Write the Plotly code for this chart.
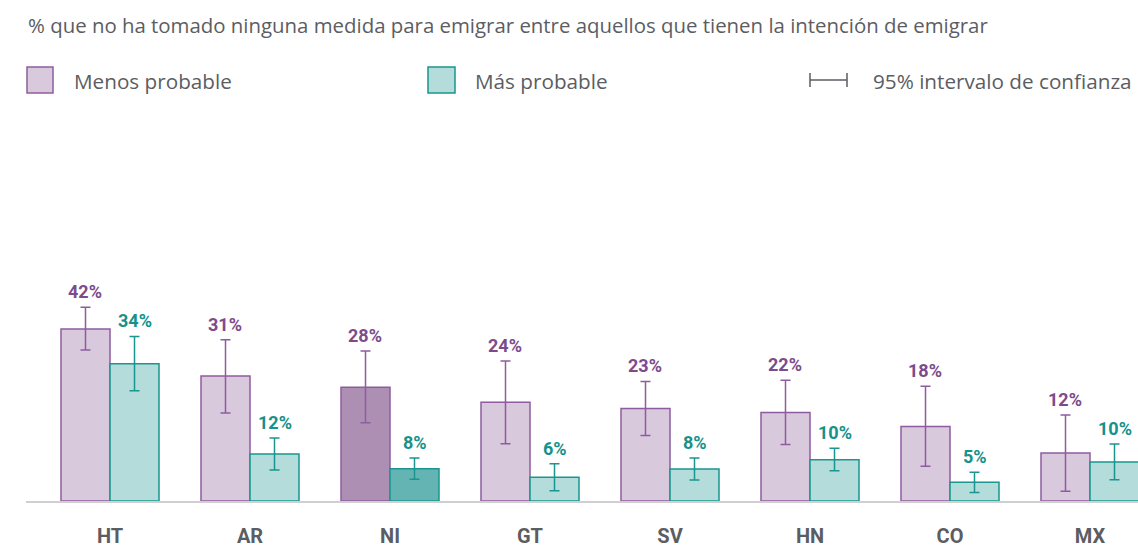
import plotly.graph_objects as go

# ---- data ----
countries = ["HT", "AR", "NI", "GT", "SV", "HN", "CO", "MX"]
menos_vals = [42.0, 30.5, 27.8, 24.1, 22.6, 21.6, 18.2, 11.7]
menos_lo = [36.9, 21.5, 19.1, 14.0, 16.0, 13.8, 8.5, 2.4]
menos_hi = [47.3, 39.4, 36.6, 34.2, 29.2, 29.5, 28.0, 21.0]
menos_labels = ["42%", "31%", "28%", "24%", "23%", "22%", "18%", "12%"]

mas_vals = [33.5, 11.5, 7.9, 5.8, 7.8, 10.1, 4.6, 9.5]
mas_lo = [26.9, 7.6, 5.3, 2.5, 5.1, 7.4, 2.1, 5.2]
mas_hi = [40.2, 15.4, 10.5, 9.1, 10.5, 12.9, 7.0, 13.9]
mas_labels = ["34%", "12%", "8%", "6%", "8%", "10%", "5%", "10%"]

highlight = "NI"

title_text = "% que no ha tomado ninguna medida para emigrar entre aquellos que tienen la intención de emigrar"
legend_menos = "Menos probable"
legend_mas = "Más probable"
legend_ci = "95% intervalo de confianza"

# ---- styles ----
W, H = 1138, 547
L, R, T, B = 26, 1138, 130, 501
PURPLE = "#7d4b8c"
PURPLE_EDGE = "#8e5c9e"
TEAL = "#16918b"
TEAL_EDGE = "#1a958f"
GRAY = "#5b5d62"
TXT_FONT = "Open Sans"

menos_fill = ["#ae8fb4" if c == highlight else "#d9c9dd" for c in countries]
mas_fill = ["#64b4b3" if c == highlight else "#b3dcdb" for c in countries]

px_per = 4.095
y_max = (B - T) / px_per
x0 = -0.6
x1 = x0 + (R - L) / 140.0


def px(x):
    return (x - L) / (R - L)


def py(y):
    return (B - y) / (B - T)


fig = go.Figure()
fig.add_bar(
    x=countries, y=menos_vals, name=legend_menos,
    marker=dict(color=menos_fill, line=dict(color=PURPLE_EDGE, width=1.5)),
    error_y=dict(type="data", symmetric=False,
                 array=[h - v for h, v in zip(menos_hi, menos_vals)],
                 arrayminus=[v - l for l, v in zip(menos_lo, menos_vals)],
                 color=PURPLE_EDGE, thickness=1.5, width=5),
    showlegend=False,
)
fig.add_bar(
    x=countries, y=mas_vals, name=legend_mas,
    marker=dict(color=mas_fill, line=dict(color=TEAL_EDGE, width=1.5)),
    error_y=dict(type="data", symmetric=False,
                 array=[h - v for h, v in zip(mas_hi, mas_vals)],
                 arrayminus=[v - l for l, v in zip(mas_lo, mas_vals)],
                 color=TEAL_EDGE, thickness=1.5, width=5),
    showlegend=False,
)

annotations = []
for i, c in enumerate(countries):
    annotations.append(dict(x=i, y=menos_hi[i], xref="x", yref="y", text=menos_labels[i],
                            showarrow=False, xshift=-24.6, yanchor="bottom", yshift=3,
                            font=dict(family="Roboto", size=18, color=PURPLE, weight="bold")))
    annotations.append(dict(x=i, y=mas_hi[i], xref="x", yref="y", text=mas_labels[i],
                            showarrow=False, xshift=24.6, yanchor="bottom", yshift=3,
                            font=dict(family="Roboto", size=18, color=TEAL, weight="bold")))

# title
annotations.append(dict(x=px(26), y=py(25), xref="paper", yref="paper", text=title_text,
                        showarrow=False, xanchor="left", yanchor="middle",
                        font=dict(family=TXT_FONT, size=20.4, color=GRAY)))
# legend texts
for xx, t in [(72, legend_menos), (473, legend_mas), (871, legend_ci)]:
    annotations.append(dict(x=px(xx), y=py(81), xref="paper", yref="paper", text=t,
                            showarrow=False, xanchor="left", yanchor="middle",
                            font=dict(family=TXT_FONT, size=20.7, color=GRAY)))

shapes = [
    dict(type="rect", xref="paper", yref="paper", x0=px(27), x1=px(53), y0=py(93), y1=py(67),
         fillcolor="#d9c9dd", line=dict(color=PURPLE_EDGE, width=1.5)),
    dict(type="rect", xref="paper", yref="paper", x0=px(428), x1=px(455), y0=py(93), y1=py(67),
         fillcolor="#b3dcdb", line=dict(color=TEAL_EDGE, width=1.5)),
    dict(type="line", xref="paper", yref="paper", x0=px(810), x1=px(810), y0=py(73), y1=py(87),
         line=dict(color=GRAY, width=1.5)),
    dict(type="line", xref="paper", yref="paper", x0=px(847), x1=px(847), y0=py(73), y1=py(87),
         line=dict(color=GRAY, width=1.5)),
    dict(type="line", xref="paper", yref="paper", x0=px(810), x1=px(847), y0=py(80), y1=py(80),
         line=dict(color=GRAY, width=1.5)),
]

fig.update_layout(
    width=W, height=H,
    margin=dict(l=L, r=W - R, t=T, b=H - B),
    paper_bgcolor="white", plot_bgcolor="white",
    barmode="group", bargap=0.3, bargroupgap=0,
    annotations=annotations, shapes=shapes,
    xaxis=dict(range=[x0, x1], showgrid=False, zeroline=False, fixedrange=True,
               showline=True, linecolor="#d0d0d0", linewidth=2,
               ticks="outside", ticklen=16, tickcolor="rgba(0,0,0,0)",
               tickfont=dict(family="Roboto", size=20, color=GRAY, weight="bold")),
    yaxis=dict(range=[0, y_max], visible=False, fixedrange=True),
)

fig.write_html(
    "out.html",
    config={"displayModeBar": False},
    post_script="document.body.style.margin='0';document.body.style.overflow='hidden';",
)
